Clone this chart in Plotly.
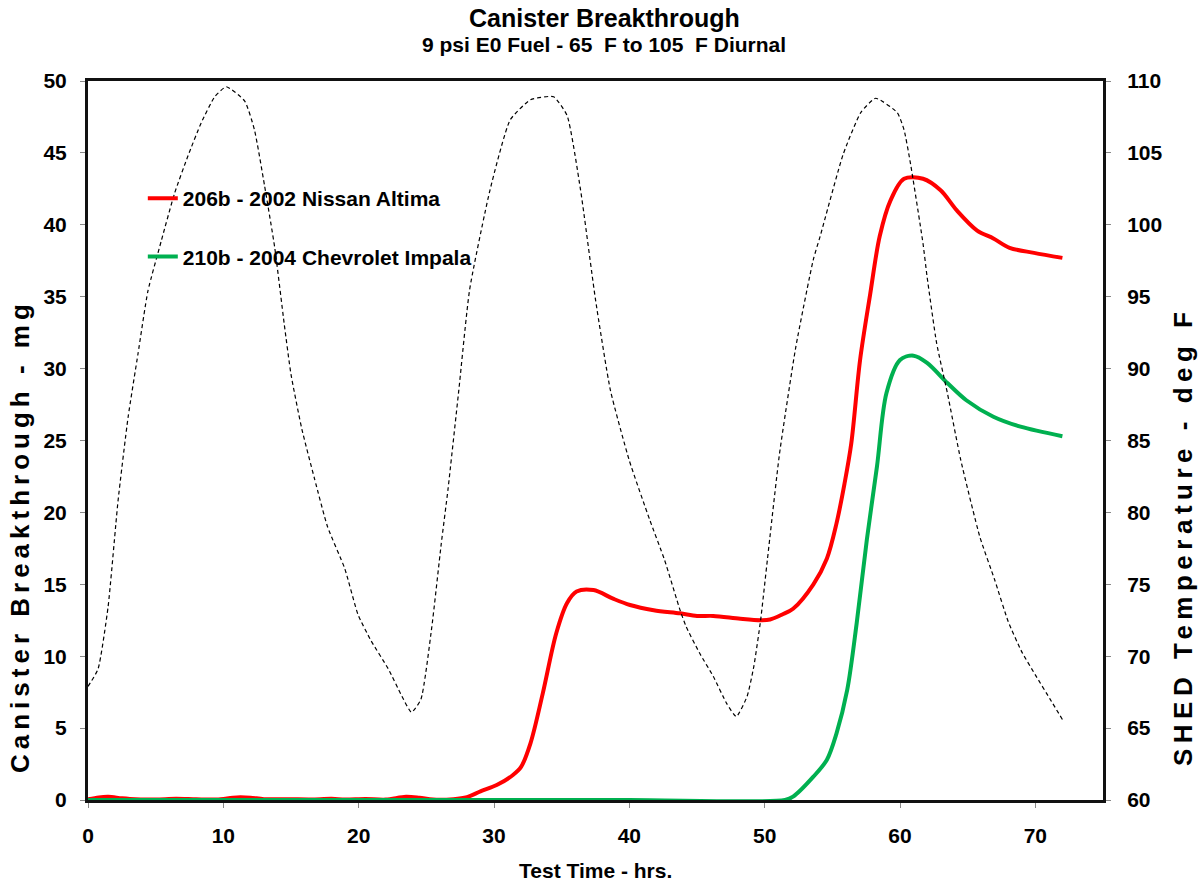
import plotly.graph_objects as go

# ---- data ----
temp_time = [0, 0.74, 1.48, 2.22, 2.96, 3.69, 4.43, 5.42, 6.4, 7.39, 8.37, 9.36, 10.22, 11.58, 12.3,
             13.05, 13.8, 14.5, 15.0, 15.8, 16.75, 17.7, 18.97, 19.95, 20.9, 22.2, 23.15, 23.9, 24.6,
             25.4, 26.1, 26.6, 27.4, 28.2, 29.7, 31.2, 32.7, 34.4, 35.4, 36.4, 37.5, 38.6, 40.0, 41.5,
             42.6, 43.75, 44.2, 45.2, 46.2, 47.2, 47.9, 48.7, 49.2, 49.7, 50.2, 51.1, 52.3, 53.6, 54.1,
             55.8, 57.1, 58.2, 59.8, 60.3, 60.75, 61.7, 62.0, 62.7, 63.5, 64.5, 65.9, 67.0, 68.0, 69.0,
             70.0, 71.1, 72.0]
temp_degF = [67.9, 69.1, 73.4, 80.8, 86.6, 91.0, 95.4, 98.9, 102.2, 104.8, 107.1, 108.9, 109.6, 108.6, 106.6,
             102.7, 98.4, 93.1, 89.6, 85.8, 82.3, 79.0, 76.1, 72.9, 71.1, 69.1, 67.3, 66.1, 67.0,
             72.0, 77.8, 81.6, 88.5, 95.5, 102.4, 107.3, 108.7, 108.9, 107.6, 102.4, 94.8, 88.5, 83.6, 79.5,
             76.7, 73.2, 72.05, 70.2, 68.6, 66.7, 65.8, 67.2, 69.3, 72.5, 76.7, 84.1, 91.5, 97.6, 99.2,
             104.9, 107.8, 108.8, 107.8, 106.6, 104.4, 98.7, 96.4, 91.8, 88.3, 83.6, 78.3, 75.3, 72.4, 70.3,
             68.7, 67.0, 65.6]

nissan_time = [0, 0.8, 1.5, 2.5, 3.5, 5, 6.5, 8, 9.5, 11, 12, 13, 15, 16.5, 18, 19, 20.5, 22, 23.5, 24.5,
               25.5, 27, 28, 29, 30.2, 31.4, 32.0, 32.7, 33.6, 34.6, 35.4, 36.1, 37.35, 38.8, 40.05, 41.8,
               43.75, 45.0, 46.2, 48.2, 49.7, 50.4, 51.3, 52.1, 53.6, 54.6, 55.3, 55.9, 56.4, 57.05, 57.8,
               58.5, 59.3, 60.3, 61.7, 63.0, 64.2, 65.7, 66.9, 68.1, 69.9, 72.0]
nissan_mg = [0.05, 0.18, 0.22, 0.12, 0.05, 0.04, 0.08, 0.05, 0.04, 0.18, 0.16, 0.06, 0.05, 0.04, 0.08, 0.03,
             0.07, 0.03, 0.22, 0.15, 0.03, 0.06, 0.2, 0.6, 1.04, 1.74, 2.3, 3.96, 7.4, 11.6, 13.7, 14.5, 14.6,
             14.0, 13.56, 13.2, 12.98, 12.8, 12.8, 12.6, 12.5, 12.55, 12.9, 13.3, 15.0, 16.8, 19.2, 22.0,
             24.8, 30.6, 35.2, 39.2, 41.7, 43.2, 43.2, 42.4, 41.0, 39.6, 39.05, 38.4, 38.05, 37.7]

impala_time = [0, 10, 20, 30, 40, 51.5, 52.1, 53.6, 54.6, 55.3, 56.1, 56.8, 57.55, 58.3, 59.0, 60.0, 61.0,
               62.0, 63.5, 64.9, 66.9, 68.9, 72.0]
impala_mg = [0, 0, 0, 0, 0, 0, 0.23, 1.62, 2.8, 4.6, 7.65, 12.3, 18.1, 23.2, 28.3, 30.6, 30.9,
             30.4, 29.0, 27.8, 26.65, 25.96, 25.3]

series_names = ["206b - 2002 Nissan Altima", "210b - 2004 Chevrolet Impala"]
x_ticks = [0, 10, 20, 30, 40, 50, 60, 70]
y_ticks = [0, 5, 10, 15, 20, 25, 30, 35, 40, 45, 50]
y2_ticks = [60, 65, 70, 75, 80, 85, 90, 95, 100, 105, 110]

FONT = "Liberation Sans, Arial, sans-serif"
PLOT_TOP, PLOT_BOTTOM, PLOT_LEFT, PLOT_RIGHT = 81, 800, 88, 1103


def py(px_y):
    return (PLOT_BOTTOM - px_y) / (PLOT_BOTTOM - PLOT_TOP)


def px(px_x):
    return (px_x - PLOT_LEFT) / (PLOT_RIGHT - PLOT_LEFT)


fig = go.Figure()
fig.add_trace(go.Scatter(x=nissan_time, y=nissan_mg, mode="lines", name=series_names[0],
                         line=dict(color="#FF0000", width=4, shape="spline", smoothing=0.9),
                         legendgroup="a"))
fig.add_trace(go.Scatter(x=impala_time, y=impala_mg, mode="lines", name=series_names[1],
                         line=dict(color="#00B050", width=4, shape="spline", smoothing=0.9),
                         legendgroup="b"))
fig.add_trace(go.Scatter(x=temp_time, y=temp_degF, mode="lines", yaxis="y2", showlegend=False,
                         line=dict(color="black", width=1.2, dash="4px,3px", shape="spline", smoothing=0.5)))

axis_common = dict(showgrid=False, zeroline=False, showline=True, linecolor="#111", linewidth=3,
                   ticks="outside", ticklen=5, tickcolor="#888", tickwidth=1,
                   tickfont=dict(family=FONT, size=21, color="black", weight="bold"))

fig.update_layout(
    width=1198, height=882,
    margin=dict(l=PLOT_LEFT, r=1198 - PLOT_RIGHT, t=PLOT_TOP, b=882 - PLOT_BOTTOM),
    paper_bgcolor="white", plot_bgcolor="white",
    font=dict(family=FONT, color="black", weight="bold"),
    showlegend=True,
    legend=dict(x=0.054, y=py(178), xanchor="left", yanchor="top", bgcolor="rgba(0,0,0,0)",
                font=dict(family=FONT, size=21, color="black", weight="bold"),
                tracegroupgap=28, traceorder="grouped", itemwidth=30),
    xaxis=dict(range=[0, 75], tickvals=x_ticks, mirror=True, ticklabelstandoff=10, **axis_common),
    yaxis=dict(range=[0, 50], tickvals=y_ticks, mirror=False, ticklabelstandoff=9, **axis_common),
    yaxis2=dict(range=[60, 110], tickvals=y2_ticks, overlaying="y", side="right", ticklabelstandoff=12,
                **axis_common),
    annotations=[
        dict(text="Canister Breakthrough", x=px(604), y=py(18), xref="paper", yref="paper",
             showarrow=False, font=dict(family=FONT, size=25, weight="bold"), yanchor="middle"),
        dict(text="9 psi E0 Fuel - 65  F to 105  F Diurnal", x=px(604), y=py(44), xref="paper", yref="paper",
             showarrow=False, font=dict(family=FONT, size=21, weight="bold"), yanchor="middle"),
        dict(text="Test Time - hrs.", x=px(595), y=py(870), xref="paper", yref="paper",
             showarrow=False, font=dict(family=FONT, size=21, weight="bold"), yanchor="middle"),
        dict(text='<span style="letter-spacing:5px">Canister Breakthrough - mg</span>',
             x=px(20), y=py(536), xref="paper", yref="paper", textangle=-90,
             showarrow=False, font=dict(family=FONT, size=26, weight="bold"),
             xanchor="center", yanchor="middle"),
        dict(text='<span style="letter-spacing:5.5px">SHED Temperature - deg F</span>',
             x=px(1183), y=py(537), xref="paper", yref="paper", textangle=-90,
             showarrow=False, font=dict(family=FONT, size=26, weight="bold"),
             xanchor="center", yanchor="middle"),
    ],
)

fig.write_html("out.html")
